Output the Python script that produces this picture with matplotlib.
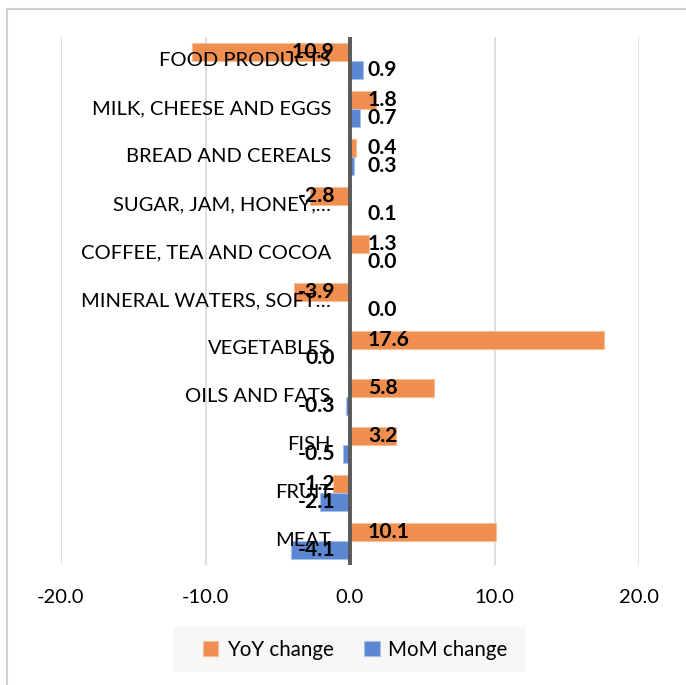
import matplotlib
matplotlib.use("Agg")
import matplotlib.pyplot as plt
from matplotlib.patches import Rectangle

plt.rcParams['font.family'] = ['Lato', 'DejaVu Sans']

categories = ["FOOD PRODUCTS", "MILK, CHEESE AND EGGS", "BREAD AND CEREALS",
              "SUGAR, JAM, HONEY,…", "COFFEE, TEA AND COCOA", "MINERAL WATERS, SOFT…",
              "VEGETABLES", "OILS AND FATS", "FISH", "FRUIT", "MEAT"]
yoy = [-10.9, 1.8, 0.4, -2.8, 1.3, -3.9, 17.6, 5.8, 3.2, -1.2, 10.1]
mom = [0.9, 0.7, 0.3, 0.1, 0.0, 0.0, -0.0, -0.3, -0.5, -2.1, -4.1]
xticks = [-20, -10, 0, 10, 20]

W, H = 686, 685
fig = plt.figure(figsize=(W / 100, H / 100), dpi=100)
ax = fig.add_axes([61 / W, 1 - 565 / H, (639 - 61) / W, (565 - 37) / H])

orange = '#EF8E4F'
blue = '#5B87D2'
bh = 0.37
off = 0.185
pos = list(range(len(categories)))

ax.barh([p - off for p in pos], yoy, height=bh, color=orange,
        edgecolor='#F7BE98', linewidth=0.8, label='YoY change', zorder=2)
ax.barh([p + off for p in pos], mom, height=bh, color=blue,
        edgecolor='#A9C0E8', linewidth=0.8, label='MoM change', zorder=2)

ax.set_xlim(-20, 20)
ax.set_ylim(len(categories) - 0.5, -0.5)
ax.set_xticks(xticks)
ax.set_xticklabels([f"{t:.1f}" for t in xticks])
ax.set_yticks([])
ax.tick_params(axis='x', length=0, pad=17, labelsize=14.5, colors='#000000')
for s in ax.spines.values():
    s.set_visible(False)
ax.grid(axis='x', color='#D9D9D9', linewidth=1.2, zorder=0)
ax.set_axisbelow(True)
ax.axvline(0, color='#595959', linewidth=2.8, zorder=3)

fs = 14.5
for p, name in zip(pos, categories):
    ax.annotate(name, xy=(0, p), xytext=(-19, 0), textcoords='offset pixels',
                ha='right', va='center', fontsize=fs, color='#000000', zorder=4)

lfs = 15.2
def label(vals, dy):
    for p, v in zip(pos, vals):
        v2 = v + 0.0
        txt = f"{v2:.1f}"
        if str(v).startswith('-'):
            ax.annotate(txt, xy=(0, p + dy), xytext=(-15, 0), textcoords='offset pixels',
                        ha='right', va='center', fontsize=lfs, fontweight='bold', zorder=5)
        else:
            ax.annotate(txt, xy=(0, p + dy), xytext=(18, 0), textcoords='offset pixels',
                        ha='left', va='center', fontsize=lfs, fontweight='bold', zorder=5)

label(yoy, -off)
label(mom, off)

# legend background box
fig.patches.append(Rectangle((173 / W, 1 - 672 / H), (526 - 173) / W, 45 / H,
                             transform=fig.transFigure, facecolor='#F7F7F7',
                             edgecolor='none', zorder=0))
leg = fig.legend(loc='center', bbox_to_anchor=(355 / W, 1 - 650 / H), ncol=2,
                 fontsize=14.8, frameon=False, handlelength=0.75,
                 handleheight=0.75, handletextpad=0.4, columnspacing=1.5,
                 borderpad=0.2, borderaxespad=0)

fig.patches.append(Rectangle((7 / W, -0.1), 1.2, 1 - 9 / H + 0.1, transform=fig.transFigure,
                             fill=False, edgecolor='#D0D0D0', linewidth=1.5))

fig.savefig('out.png', dpi=100)
